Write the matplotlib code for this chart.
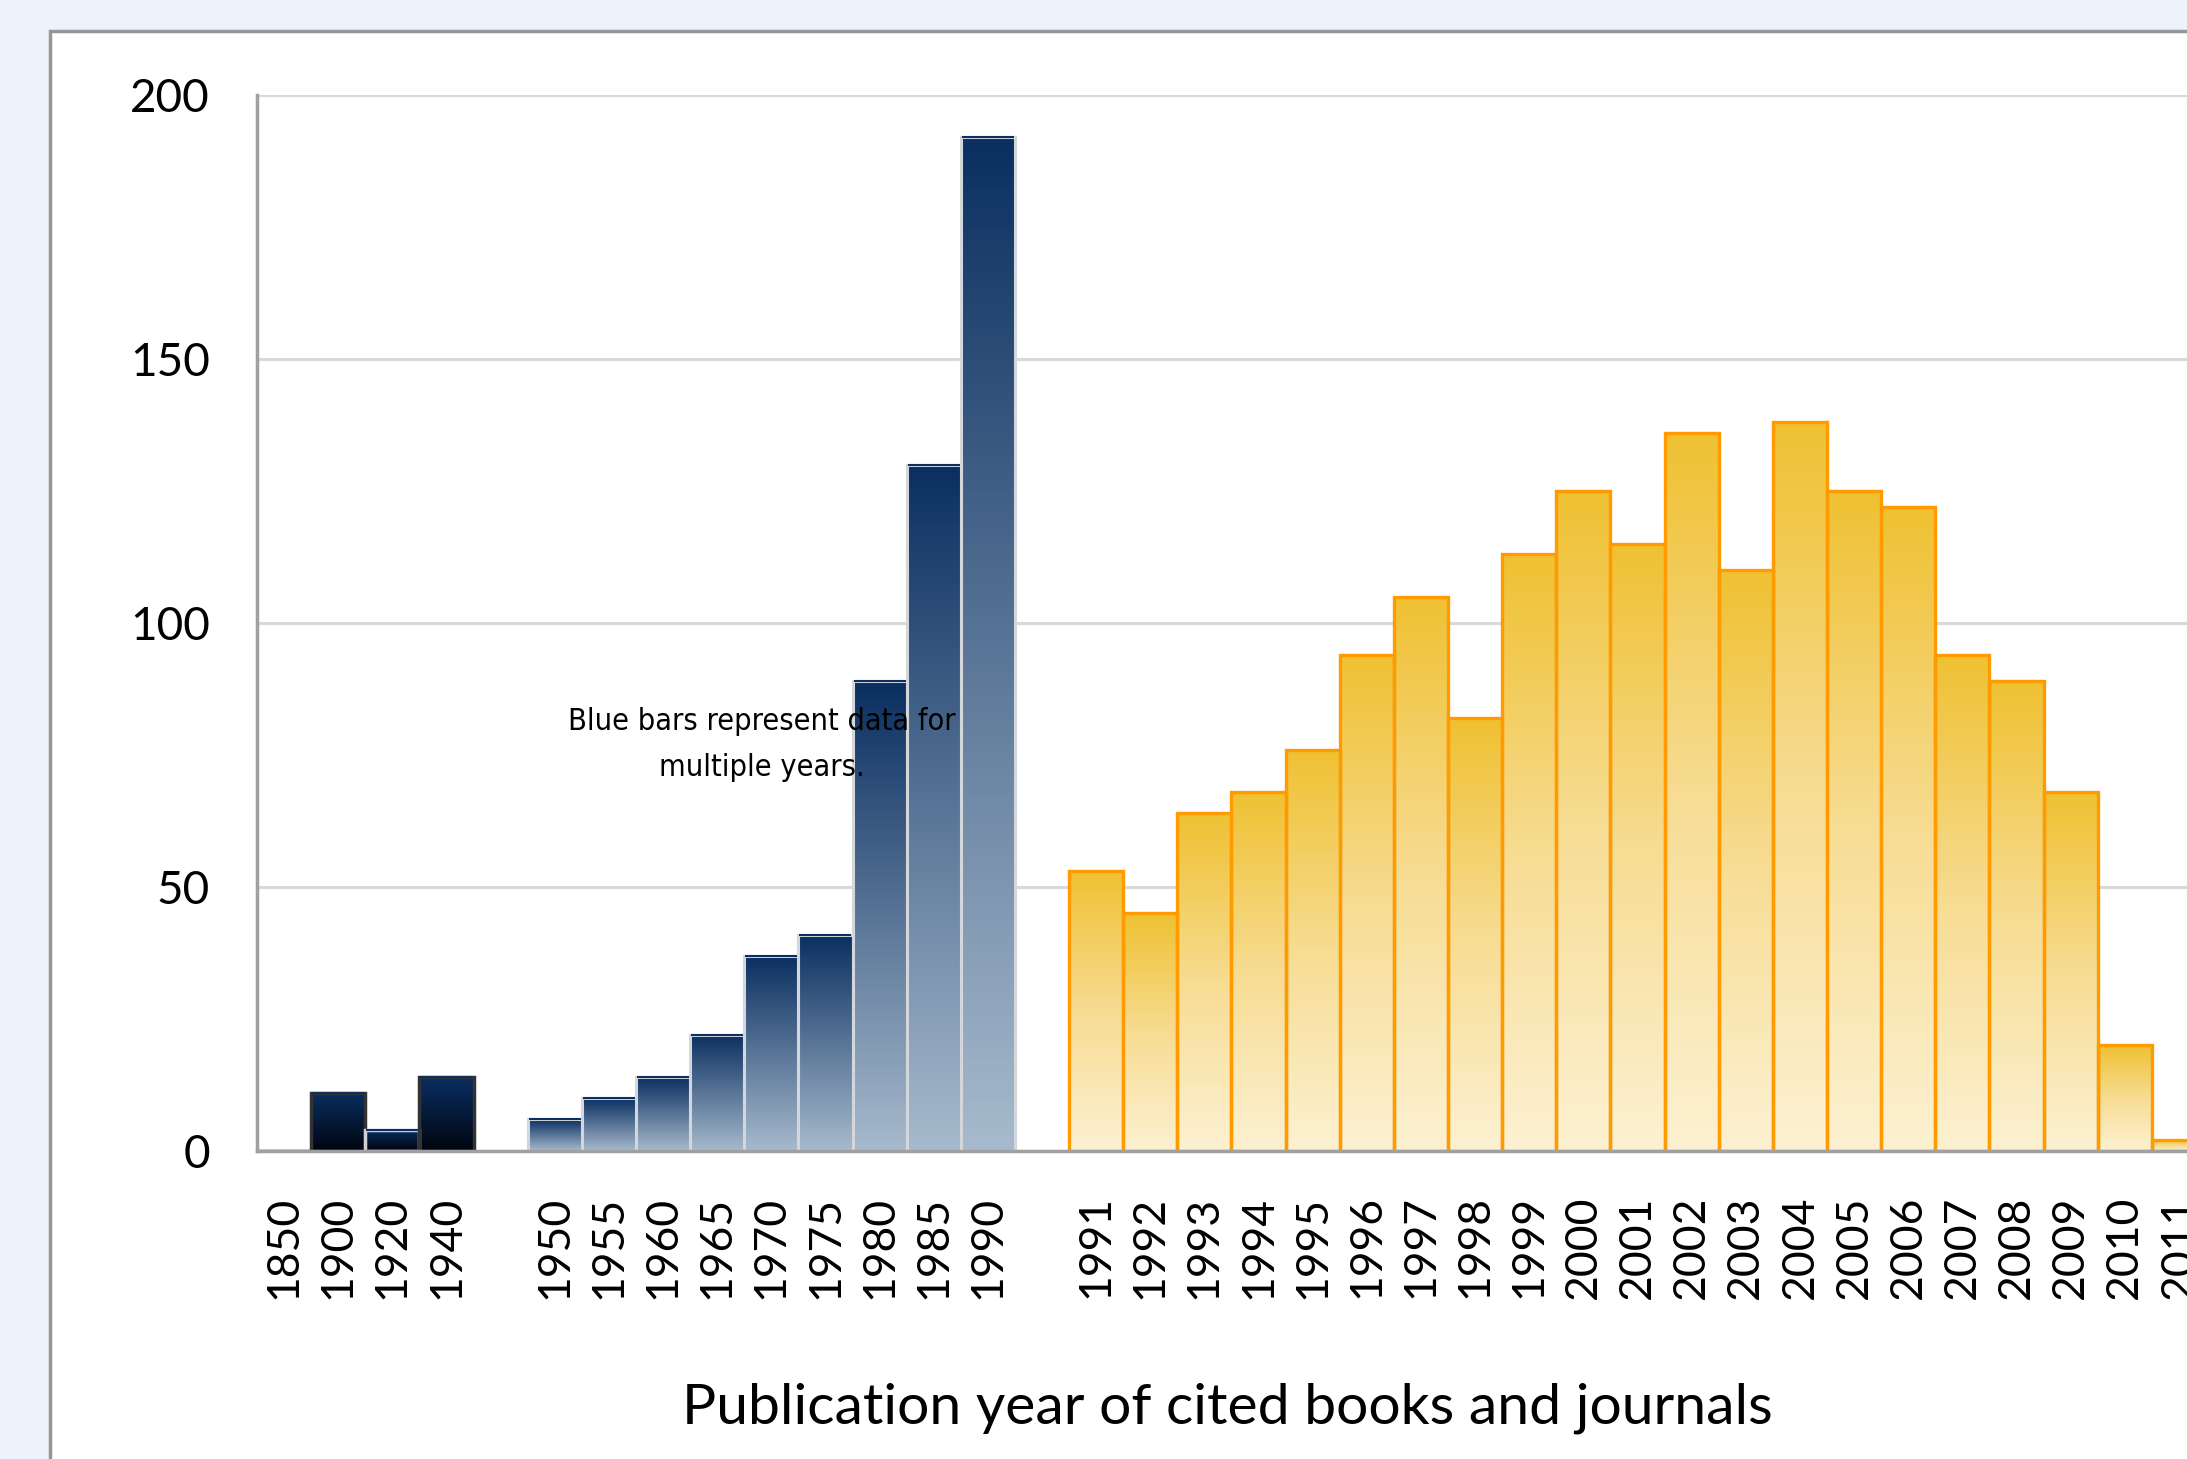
import numpy as np
import matplotlib
matplotlib.use("Agg")
import matplotlib.pyplot as plt
from matplotlib.colors import LinearSegmentedColormap
from matplotlib.patches import Rectangle

# early decades (multi-year bins, dark bars)
early_labels = ['1850', '1900', '1920', '1940']
early_counts = [0, 11, 4, 14]

# five-year bins (blue bars)
mid_labels = ['1950', '1955', '1960', '1965', '1970', '1975', '1980', '1985', '1990']
mid_counts = [6, 10, 14, 22, 37, 41, 89, 130, 192]

# single years (orange bars)
year_labels = ['1991', '1992', '1993', '1994', '1995', '1996', '1997', '1998', '1999', '2000',
               '2001', '2002', '2003', '2004', '2005', '2006', '2007', '2008', '2009', '2010', '2011']
year_counts = [53, 45, 64, 68, 76, 94, 105, 82, 113, 125, 115, 136, 110, 138, 125, 122,
               94, 89, 68, 20, 2]

note = "Blue bars represent data for\nmultiple years."
xlabel = "Publication year of cited books and journals"

plt.rcParams['font.family'] = ['Lato', 'DejaVu Sans']

# slot positions: one empty slot between groups
x_early = np.arange(len(early_labels))
x_mid = np.arange(len(mid_labels)) + len(early_labels) + 1
x_year = np.arange(len(year_labels)) + x_mid[-1] + 2

cm_early = LinearSegmentedColormap.from_list('early', ['#00050f', '#0a2f62'])
cm_mid = LinearSegmentedColormap.from_list('mid', ['#a7bacd', '#0a2f60'])
cm_year = LinearSegmentedColormap.from_list('year', ['#fcf1d2', '#f7dc92', '#efc132'])

fig = plt.figure(figsize=(21.87, 14.59), dpi=100)
fig.patch.set_facecolor('#eef2fa')
# white panel behind the chart
panel = Rectangle((50 / 2187, -0.1), 1.2, 1 - 31 / 1459 + 0.1,
                  transform=fig.transFigure, facecolor='white',
                  edgecolor='#969696', linewidth=2.5, zorder=-5)
fig.patches.append(panel)

ax = fig.add_axes([257 / 2187, 1 - 1151 / 1459, 1 - 257 / 2187, (1151 - 95) / 1459])
ax.set_facecolor('white')
ax.set_zorder(1)

grad = np.linspace(0, 1, 256).reshape(-1, 1)


def gradient_bars(xs, vals, cmap):
    for x, v in zip(xs, vals):
        if v > 0:
            ax.imshow(grad, extent=(x - 0.5, x + 0.5, 0, v), origin='lower',
                      aspect='auto', cmap=cmap, zorder=2, interpolation='bilinear')


gradient_bars(x_early, early_counts, cm_early)
gradient_bars(x_mid, mid_counts, cm_mid)
gradient_bars(x_year, year_counts, cm_year)

early_edges = ['#333333', '#333333', '#d0d0d0', '#333333']
ax.bar(x_early, early_counts, width=1.0, fill=False, edgecolor=early_edges,
       linewidth=2.5, zorder=3)
ax.bar(x_mid, mid_counts, width=1.0, fill=False, edgecolor='#d3d6db',
       linewidth=2.2, zorder=3)
ax.hlines(early_counts[1:] + mid_counts, np.r_[x_early[1:], x_mid] - 0.48,
          np.r_[x_early[1:], x_mid] + 0.48, color='#0a2f60', linewidth=1.5, zorder=4)
ax.bar(x_year, year_counts, width=1.0, fill=False, edgecolor='#ff9a00',
       linewidth=2.4, zorder=3)

ax.set_xlim(-0.5, 35.15)
ax.set_ylim(0, 200)
ax.set_yticks([0, 50, 100, 150, 200])
ax.grid(axis='y', color='#d9d9d9', linewidth=2.2, zorder=0)
ax.set_axisbelow(True)

ax.set_xticks(np.r_[x_early, x_mid, x_year])
ax.set_xticklabels(early_labels + mid_labels + year_labels, rotation=90)
ax.tick_params(axis='x', length=0, pad=32, labelsize=32)
ax.tick_params(axis='y', length=0, pad=34, labelsize=33)

for s in ['top', 'right']:
    ax.spines[s].set_visible(False)
for s in ['left', 'bottom']:
    ax.spines[s].set_color('#a0a0a0')
    ax.spines[s].set_linewidth(2.5)
    ax.spines[s].set_zorder(5)

ax.text(8.83, 77.0, note, ha='center', va='center', fontsize=22, linespacing=1.75,
        family='DejaVu Sans', fontstretch='condensed', zorder=6)

fig.text(0.561, 0.035, xlabel, ha='center', va='center', fontsize=41)

fig.savefig('out.png', dpi=100, facecolor=fig.get_facecolor())
